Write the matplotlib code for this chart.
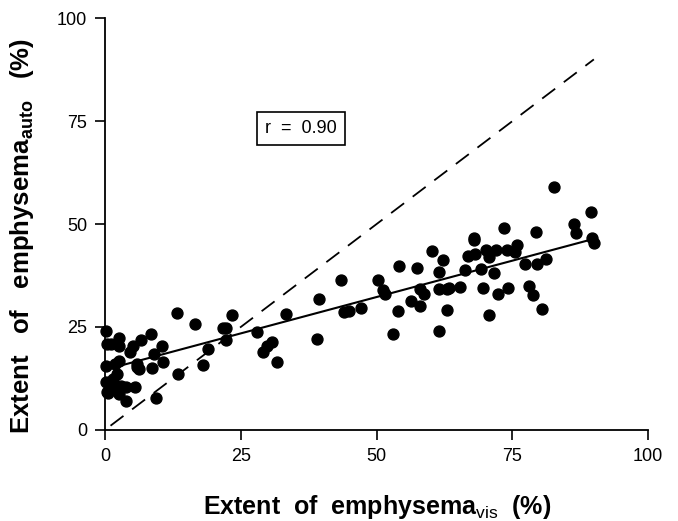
import matplotlib
matplotlib.use('Agg')
import matplotlib.pyplot as plt

# visual score vs automated score (%)
vis = [0.2, 0.3, 1.0, 0.2, 0.2, 0.4, 2.6, 2.6, 1.8, 2.6, 2.2, 1.4, 1.0, 1.8,
       3.0, 3.8, 2.6, 3.8, 5.5, 4.6, 5.1, 6.6, 5.8, 6.3, 8.4, 9.0, 8.6, 10.4,
       10.6, 9.4, 13.2, 13.4, 16.6, 18.0, 19.0, 21.8, 22.3, 22.2, 23.4, 28.0,
       29.0, 29.8, 30.8, 31.6, 33.4, 39.0, 39.4, 43.4, 43.9, 45.0, 47.1, 50.3,
       51.1, 51.5, 53.0, 54.0, 54.2, 56.4, 57.4, 57.9, 58.0, 58.7, 60.2, 61.4,
       61.5, 61.5, 62.3, 63.0, 63.4, 63.0, 65.4, 66.3, 66.8, 67.9, 68.0, 68.2,
       69.2, 69.5, 70.2, 70.6, 70.6, 71.6, 72.0, 72.4, 73.4, 74.0, 74.2, 75.4,
       75.9, 77.4, 78.0, 78.8, 79.4, 79.6, 80.4, 81.1, 82.6, 86.3, 86.7, 89.4,
       89.6, 90.0, 0.9, 0.6, 5.9, 1.2]
auto = [24.0, 20.8, 20.8, 15.5, 11.5, 9.1, 22.4, 20.4, 15.9, 16.7, 13.5, 12.3,
        10.7, 10.7, 10.7, 10.3, 8.6, 7.0, 10.3, 18.8, 20.4, 21.8, 15.9, 14.7,
        23.4, 18.4, 15.1, 20.4, 16.5, 7.8, 28.5, 13.5, 25.6, 15.7, 19.7, 24.8,
        24.8, 21.8, 27.8, 23.8, 18.9, 20.4, 21.3, 16.6, 28.1, 22.0, 31.7, 36.5,
        28.7, 28.9, 29.7, 36.3, 34.0, 33.1, 23.2, 28.9, 39.8, 31.3, 39.4, 34.3,
        30.1, 33.1, 43.4, 38.3, 34.3, 24.0, 41.2, 34.1, 34.5, 29.1, 34.8, 38.8,
        42.2, 46.2, 46.6, 42.6, 39.1, 34.5, 43.7, 42.0, 27.8, 38.0, 43.7, 33.1,
        49.1, 43.7, 34.5, 43.2, 45.0, 40.2, 34.9, 32.7, 48.1, 40.2, 29.3, 41.6,
        59.0, 50.1, 47.9, 52.9, 46.6, 45.4, 11.7, 9.0, 15.3, 11.0]

fit_x = [0, 90]
fit_y = [14.6, 46.4]
ident_x = [1, 90]
ident_y = [1, 90]

ticks = [0, 25, 50, 75, 100]

plt.rcParams['font.family'] = 'Liberation Sans'
plt.rcParams['mathtext.fontset'] = 'custom'
plt.rcParams['mathtext.rm'] = 'Liberation Sans'
plt.rcParams['mathtext.bf'] = 'Liberation Sans:bold'

fig = plt.figure(figsize=(6.78, 5.21), dpi=100)
ax = fig.add_axes([0.155, 0.175, 0.801, 0.79])

ax.plot(ident_x, ident_y, color='black', lw=1.3, dashes=(9, 6))
ax.plot(fit_x, fit_y, color='black', lw=1.5)
ax.scatter(vis, auto, s=62, color='black', zorder=3, clip_on=False)

ax.set_xlim(0, 100)
ax.set_ylim(0, 100)
ax.set_xticks(ticks)
ax.set_yticks(ticks)
ax.tick_params(direction='out', length=7, width=1.2, labelsize=13, pad=6)
for s in ['top', 'right']:
    ax.spines[s].set_visible(False)
for s in ['left', 'bottom']:
    ax.spines[s].set_linewidth(1.3)

ax.set_xlabel(r'Extent  of  emphysema$_{\mathrm{vis}}$  (%)',
              fontsize=18, fontweight='bold', labelpad=20)
ax.set_ylabel(r'Extent   of   emphysema$_{\mathbf{auto}}$   (%)',
              fontsize=18.5, fontweight='bold')
ax.yaxis.set_label_coords(-0.128, 0.47)

ax.text(36, 73.3, 'r  =  0.90', fontsize=13, ha='center', va='center',
        bbox=dict(boxstyle='square,pad=0.45', fc='white', ec='black', lw=1.2))

fig.savefig('out.png', dpi=100)
